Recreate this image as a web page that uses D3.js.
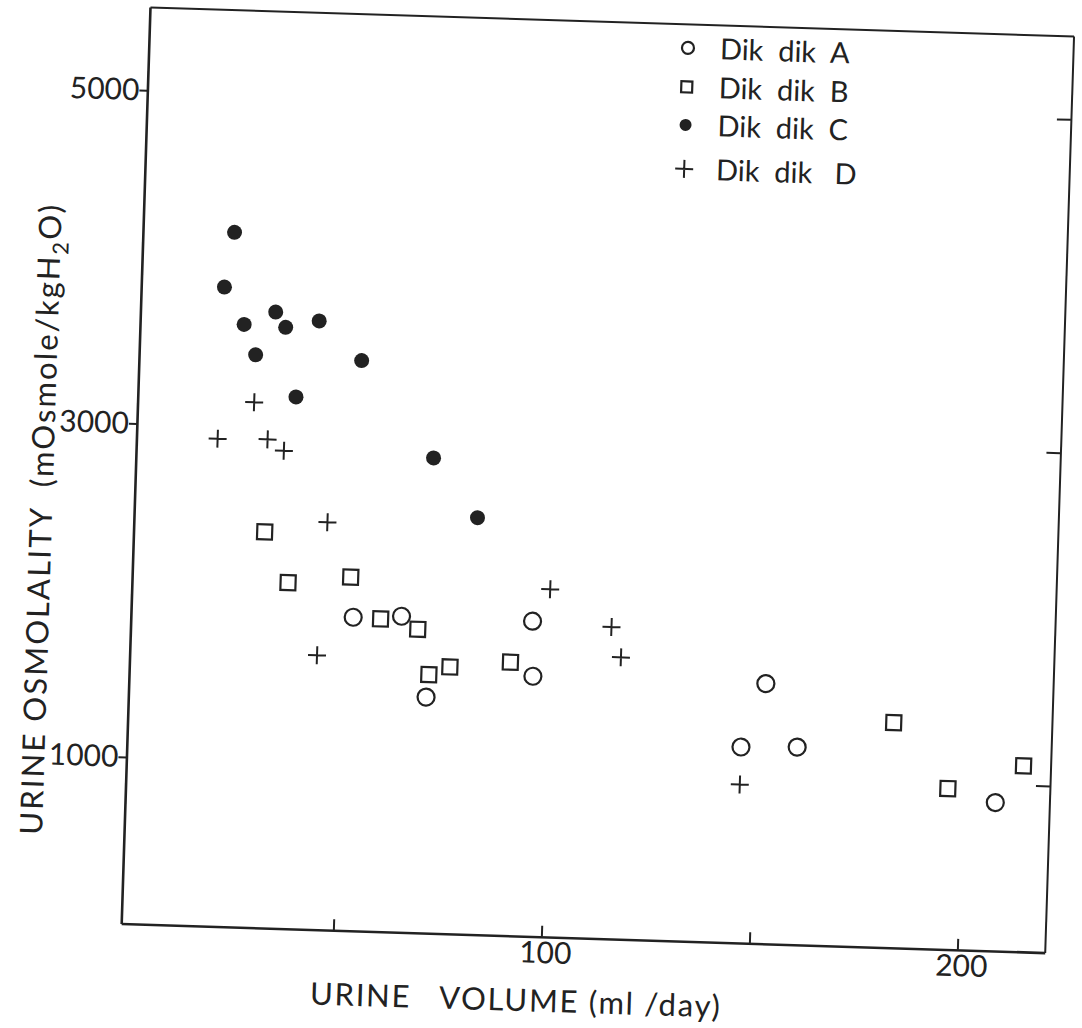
<!DOCTYPE html>
<html>
<head>
<meta charset="utf-8">
<script src="https://cdn.jsdelivr.net/npm/d3@7"></script>
<style>
  body { margin: 0; background: #fff; }
  text { font-family: Lato, "Liberation Sans", sans-serif; fill: #222; white-space: pre; }
</style>
</head>
<body>
<svg id="chart" width="1082" height="1028"></svg>
<script>
// Urine volume (ml/day) against urine osmolality (mOsmole/kg H2O), four dik-diks.
const seriesNames = ["Dik  dik  A", "Dik  dik  B", "Dik  dik  C", "Dik  dik   D"];

// [volume, osmolality]
const dikdikA = [[52.4, 1880], [64, 1895], [70.5, 1415], [95.5, 1890], [96, 1560],
                 [152, 1560], [146.5, 1175], [160, 1185], [208, 890]];
const dikdikB = [[30.5, 2375], [36.5, 2075], [51.5, 2120], [59, 1875], [68, 1820],
                 [71, 1550], [76, 1600], [90.5, 1640], [183, 1350], [196.5, 965], [214.5, 1115]];
const dikdikC = [[21, 4165], [19, 3835], [24, 3615], [31.5, 3695], [34, 3605], [42, 3650],
                 [27, 3435], [52.5, 3420], [37, 3190], [70.5, 2850], [81.5, 2500]];
const dikdikD = [[27, 3150], [18.5, 2925], [30.5, 2930], [34.5, 2865], [45.5, 2445],
                 [44, 1645], [99.5, 2085], [114.5, 1870], [117, 1690], [146.5, 950]];

const xTicks = [50, 100, 150, 200];
const xTickLabels = ["", "100", "", "200"];
const yTicks = [1000, 3000, 5000];
const yTickLabels = ["1000", "3000", "5000"];

const W = 924, H = 917;
const ink = "#222";

const svg = d3.select("#chart");
svg.append("rect").attr("width", 1082).attr("height", 1028).attr("fill", "#fff");

// the whole figure sits slightly tilted on the page
const g = svg.append("g").attr("transform", "translate(150,7) rotate(1.8)");

const x = d3.scaleLinear().domain([-1, 221]).range([0, W]);
const y = d3.scaleLinear().domain([0, 5500]).range([H, 0]);

// frame: top and right edges, thinner
g.append("g").call(d3.axisTop(x).tickValues([]).tickSizeOuter(0))
  .call(a => a.select(".domain").attr("stroke", ink).attr("stroke-width", 2));
g.append("g").attr("transform", `translate(${W},0)`)
  .call(d3.axisRight(y).tickValues(yTicks).tickSize(-14).tickSizeOuter(0).tickFormat(""))
  .call(a => a.selectAll(".domain, line").attr("stroke", ink).attr("stroke-width", 2));

// bottom axis, ticks pointing inward
const xAxis = g.append("g").attr("transform", `translate(0,${H})`)
  .call(d3.axisBottom(x).tickValues(xTicks).tickSize(-11).tickSizeOuter(0).tickPadding(5)
    .tickFormat((d, i) => xTickLabels[i]));
xAxis.select(".domain").attr("stroke", ink).attr("stroke-width", 2.6);
xAxis.selectAll("line").attr("stroke", ink).attr("stroke-width", 2);
xAxis.selectAll("text").attr("font-size", 30).attr("dx", 4)
  .style("font-family", "Lato, 'Liberation Sans', sans-serif").attr("fill", ink);

// left axis, short outward ticks
const yAxis = g.append("g")
  .call(d3.axisLeft(y).tickValues(yTicks).tickSize(8).tickSizeOuter(0).tickPadding(0)
    .tickFormat((d, i) => yTickLabels[i]));
yAxis.select(".domain").attr("stroke", ink).attr("stroke-width", 2.6);
yAxis.selectAll("line").attr("stroke", ink).attr("stroke-width", 2);
yAxis.selectAll("text").attr("font-size", 30)
  .style("font-family", "Lato, 'Liberation Sans', sans-serif").attr("fill", ink);

// axis titles
g.append("text")
  .attr("x", 191).attr("y", H + 75)
  .attr("font-size", 31).attr("textLength", 410).attr("lengthAdjust", "spacing")
  .text("URINE   VOLUME (ml /day)");

const yTitle = g.append("text")
  .attr("transform", `translate(-82,516) rotate(-90)`)
  .attr("text-anchor", "middle")
  .attr("font-size", 31).attr("textLength", 630).attr("lengthAdjust", "spacing");
yTitle.append("tspan").text("URINE OSMOLALITY  (mOsmole/kgH");
yTitle.append("tspan").attr("font-size", 22).attr("dy", 8).text("2");
yTitle.append("tspan").attr("dy", -8).text("O)");

// marks
const sym = {
  A: (sel, r) => sel.append("circle").attr("r", r).attr("fill", "none")
        .attr("stroke", ink).attr("stroke-width", 2.2),
  B: (sel, s) => sel.append("rect").attr("x", -s / 2).attr("y", -s / 2)
        .attr("width", s).attr("height", s).attr("fill", "none")
        .attr("stroke", ink).attr("stroke-width", 2.2),
  C: (sel, r) => sel.append("circle").attr("r", r).attr("fill", ink),
  D: (sel, a) => sel.append("path").attr("d", `M${-a},0H${a}M0,${-a}V${a}`)
        .attr("fill", "none").attr("stroke", ink).attr("stroke-width", 2)
};

function plot(data, key, size) {
  g.append("g").selectAll("g").data(data).join("g")
    .attr("transform", d => `translate(${x(d[0])},${y(d[1])})`)
    .each(function () { sym[key](d3.select(this), size); });
}
plot(dikdikC, "C", 7.5);
plot(dikdikD, "D", 9);
plot(dikdikB, "B", 15);
plot(dikdikA, "A", 8.5);

// legend
const legendRows = [
  { key: "A", size: 6, v: 24 },
  { key: "B", size: 11, v: 63 },
  { key: "C", size: 6, v: 101 },
  { key: "D", size: 9, v: 145 }
];
legendRows.forEach((row, i) => {
  const lg = g.append("g").attr("transform", `translate(539,${row.v})`);
  sym[row.key](lg, row.size);
  lg.append("text").attr("x", 32).attr("dy", "0.36em")
    .attr("font-size", 29).text(seriesNames[i]);
});
</script>
</body>
</html>
